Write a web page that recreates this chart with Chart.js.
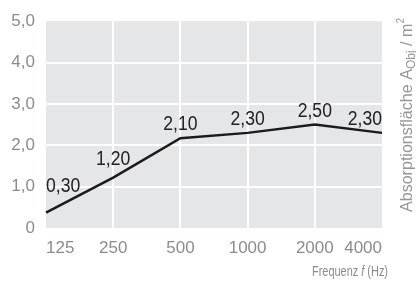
<!DOCTYPE html>
<html>
<head>
<meta charset="utf-8">
<script src="https://cdn.jsdelivr.net/npm/chart.js@4"></script>
<style>
  html, body { margin: 0; padding: 0; background: #fff; }
  #wrap { width: 416px; height: 281px; }
</style>
</head>
<body>
<div id="wrap"><canvas id="chart" width="416" height="281"></canvas></div>
<script>
const frequencies = ['125', '250', '500', '1000', '2000', '4000'];
const absorption = [0.37, 1.22, 2.17, 2.30, 2.50, 2.30];
const valueLabels = ['0,30', '1,20', '2,10', '2,30', '2,50', '2,30'];
const yTicks = [0, 1, 2, 3, 4, 5];

const FONT = '"Liberation Sans", Arial, sans-serif';
const GREY = '#8c8c8c';

// grey plot background
const plotBg = {
  id: 'plotBg',
  beforeDraw(chart) {
    const { ctx, chartArea: a } = chart;
    ctx.save();
    ctx.fillStyle = '#e5e6e8';
    ctx.fillRect(a.left, a.top, a.right - a.left, a.bottom - a.top);
    ctx.restore();
  }
};

function lineYAt(pts, x) {
  for (let i = 0; i < pts.length - 1; i++) {
    const p = pts[i], q = pts[i + 1];
    if (x >= p.x && x <= q.x) return p.y + (q.y - p.y) * (x - p.x) / (q.x - p.x);
  }
  return x < pts[0].x ? pts[0].y : pts[pts.length - 1].y;
}

// value labels above the points, kept clear of the line
const valueText = {
  id: 'valueText',
  afterDatasetsDraw(chart) {
    const { ctx } = chart;
    const pts = chart.getDatasetMeta(0).data;
    const sx = 0.88;
    ctx.save();
    ctx.font = '20px ' + FONT;
    ctx.fillStyle = '#222';
    ctx.textBaseline = 'alphabetic';
    ctx.textAlign = 'left';
    pts.forEach((p, i) => {
      const w = ctx.measureText(valueLabels[i]).width * sx;
      let x0 = p.x - w / 2;
      if (i === 0) x0 = p.x;
      if (i === pts.length - 1) x0 = p.x - w;
      const clear = Math.min(lineYAt(pts, x0), lineYAt(pts, x0 + w)) - 3;
      const base = Math.min(p.y - 8, clear);
      ctx.save();
      ctx.translate(x0, base);
      ctx.scale(sx, 1);
      ctx.fillText(valueLabels[i], 0, 0);
      ctx.restore();
    });
    ctx.restore();
  }
};

// draw a run of text parts ending at x = 0, squeezed to a target width
function drawParts(ctx, parts, width) {
  let w = 0;
  parts.forEach(p => { ctx.font = p.f; w += ctx.measureText(p.t).width; });
  ctx.scale(width / w, 1);
  let x = -w;
  parts.forEach(p => { ctx.font = p.f; ctx.fillText(p.t, x, p.dy || 0); x += ctx.measureText(p.t).width; });
}

// axis titles with sub/superscript and italic f
const titles = {
  id: 'titles',
  afterDraw(chart) {
    const { ctx, chartArea: a } = chart;
    ctx.fillStyle = GREY;
    ctx.textBaseline = 'alphabetic';
    ctx.textAlign = 'left';

    // x title, right aligned
    ctx.save();
    ctx.translate(a.right + 6, 276);
    drawParts(ctx, [
      { t: 'Frequenz ', f: '15.5px ' + FONT },
      { t: 'f', f: 'italic 15.5px ' + FONT },
      { t: ' (Hz)', f: '15.5px ' + FONT }
    ], 76);
    ctx.restore();

    // y title on the right, rotated, ending at the top
    ctx.save();
    ctx.fillStyle = '#969696';
    ctx.translate(412, 18);
    ctx.rotate(-Math.PI / 2);
    drawParts(ctx, [
      { t: 'Absorptionsfläche A', f: '16px ' + FONT },
      { t: 'Obj', f: '12px ' + FONT, dy: 3 },
      { t: ' / m', f: '16px ' + FONT },
      { t: '2', f: '10px ' + FONT, dy: -8 }
    ], 194);
    ctx.restore();
  }
};

new Chart(document.getElementById('chart'), {
  type: 'line',
  data: {
    labels: frequencies,
    datasets: [{
      data: absorption,
      borderColor: '#1b1b1b',
      borderWidth: 2.5,
      pointRadius: 0,
      tension: 0,
      fill: false
    }]
  },
  options: {
    responsive: false,
    animation: false,
    layout: { padding: { top: 20, right: 34, left: 0, bottom: 0 } },
    plugins: { legend: { display: false }, tooltip: { enabled: false } },
    scales: {
      x: {
        type: 'category',
        offset: false,
        border: { display: false },
        grid: {
          offset: false,
          lineWidth: 2,
          drawTicks: false,
          color: ctx => (ctx.index === 0 || ctx.index === frequencies.length - 1) ? 'rgba(0,0,0,0)' : '#ffffff'
        },
        ticks: {
          color: GREY,
          font: { family: FONT, size: 17 },
          padding: 10,
          maxRotation: 0,
          autoSkip: false,
          align: 'inner'
        },
        afterFit: s => { s.height = 53; }
      },
      y: {
        min: 0,
        max: 5,
        border: { display: false },
        afterBuildTicks: s => { s.ticks = yTicks.map(v => ({ value: v })); },
        grid: {
          lineWidth: 2,
          drawTicks: false,
          color: ctx => (ctx.index === 0 || ctx.index === yTicks.length - 1) ? 'rgba(0,0,0,0)' : '#ffffff'
        },
        ticks: {
          color: GREY,
          font: { family: FONT, size: 17 },
          padding: 11,
          callback: v => v === 0 ? '0' : v.toFixed(1).replace('.', ',')
        },
        afterFit: s => { s.width = 46; }
      }
    }
  },
  plugins: [plotBg, valueText, titles]
});
</script>
</body>
</html>
